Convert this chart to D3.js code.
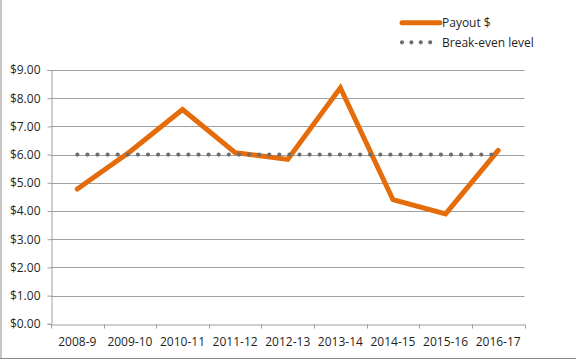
<!DOCTYPE html>
<html>
<head>
<meta charset="utf-8">
<script src="https://cdn.jsdelivr.net/npm/d3@7"></script>
<style>
  html, body { margin: 0; padding: 0; background: #fff; }
  svg { display: block; }
  text { font-family: "Open Sans", "Liberation Sans", sans-serif; fill: #1f1f1f; }
</style>
</head>
<body>
<script>
const categories = ["2008-9", "2009-10", "2010-11", "2011-12", "2012-13", "2013-14", "2014-15", "2015-16", "2016-17"];
const payout = [4.78, 6.1, 7.6, 6.07, 5.83, 8.37, 4.4, 3.9, 6.15];
const breakEven = [6, 6, 6, 6, 6, 6, 6, 6, 6];
const yTicks = [0, 1, 2, 3, 4, 5, 6, 7, 8, 9];
const seriesNames = ["Payout $", "Break-even level"];

const W = 576, H = 360;
const margin = { left: 51, right: 576 - 524.5, top: 70, bottom: 360 - 323.8 };

const svg = d3.select("body").append("svg").attr("width", W).attr("height", H);

// outer frame (left and bottom edges visible)
svg.append("line").attr("x1", 1).attr("x2", 1).attr("y1", 0).attr("y2", 358.5)
  .attr("stroke", "#8c8c8c").attr("stroke-width", 1);
svg.append("line").attr("x1", 0).attr("x2", W).attr("y1", 358.5).attr("y2", 358.5)
  .attr("stroke", "#8c8c8c").attr("stroke-width", 1);

const x = d3.scaleBand().domain(categories).range([margin.left, W - margin.right]).padding(0);
const y = d3.scaleLinear().domain([0, 9]).range([H - margin.bottom, margin.top]);

// gridlines
svg.append("g").selectAll("line").data(yTicks.filter(d => d > 0)).join("line")
  .attr("x1", margin.left).attr("x2", W - margin.right)
  .attr("y1", d => Math.round(y(d)) + 0.5).attr("y2", d => Math.round(y(d)) + 0.5)
  .attr("stroke", "#a0a0a0").attr("stroke-width", 1);

// y axis
const yAxis = svg.append("g").attr("transform", `translate(${margin.left + 0.5},0)`)
  .call(d3.axisLeft(y).tickValues(yTicks).tickFormat(d => "$" + d.toFixed(2)).tickSize(4).tickPadding(7));
yAxis.select(".domain").attr("stroke", "#a0a0a0");
yAxis.selectAll(".tick line").attr("stroke", "#a0a0a0");
yAxis.selectAll("text").attr("font-size", 12).attr("fill", "#1f1f1f")
  .style("font-family", '"Open Sans", sans-serif');

// x axis
const xAxis = svg.append("g").attr("transform", `translate(0,${Math.round(y(0)) + 0.5})`)
  .call(d3.axisBottom(x).tickSize(0).tickPadding(13));
xAxis.select(".domain").attr("stroke", "#a0a0a0");
xAxis.selectAll("text").attr("font-size", 12).attr("fill", "#1f1f1f")
  .style("font-family", '"Open Sans", sans-serif');
// boundary ticks
const bounds = categories.map(c => x(c)).concat([x(categories[categories.length - 1]) + x.bandwidth()]);
xAxis.append("g").selectAll("line").data(bounds).join("line")
  .attr("x1", d => Math.round(d) + 0.5).attr("x2", d => Math.round(d) + 0.5)
  .attr("y1", 0).attr("y2", 4).attr("stroke", "#a0a0a0");

const cx = c => x(c) + x.bandwidth() / 2;
const lineGen = d3.line().x((d, i) => cx(categories[i])).y(d => y(d));

// payout line
svg.append("path").datum(payout).attr("d", lineGen)
  .attr("fill", "none").attr("stroke", "#e46c0a").attr("stroke-width", 5)
  .attr("stroke-linejoin", "miter").attr("stroke-linecap", "round");

// break-even dotted line (drawn on top)
svg.append("path").datum(breakEven).attr("d", lineGen)
  .attr("fill", "none").attr("stroke", "#6e6e6e").attr("stroke-width", 4.2)
  .attr("stroke-linecap", "round").attr("stroke-dasharray", "0 10.1");

// legend
const lg = svg.append("g");
lg.append("line").attr("x1", 402).attr("x2", 440).attr("y1", 22.7).attr("y2", 22.7)
  .attr("stroke", "#e46c0a").attr("stroke-width", 5).attr("stroke-linecap", "round");
lg.append("line").attr("x1", 402).attr("x2", 431).attr("y1", 42.3).attr("y2", 42.3)
  .attr("stroke", "#6e6e6e").attr("stroke-width", 4.2).attr("stroke-linecap", "round")
  .attr("stroke-dasharray", "0 9.4");
lg.selectAll("text").data(seriesNames).join("text")
  .attr("x", 442).attr("y", (d, i) => i === 0 ? 23 : 42.5).attr("dy", "0.35em")
  .attr("font-size", 12).text(d => d);
</script>
</body>
</html>
